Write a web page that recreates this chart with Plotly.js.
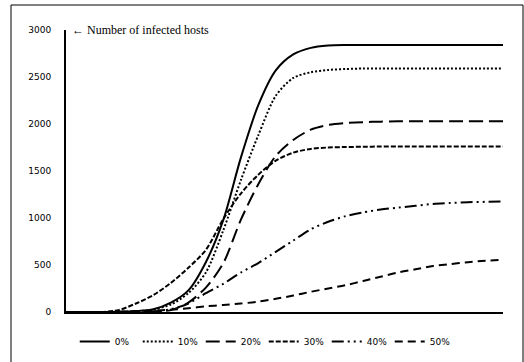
<!DOCTYPE html>
<html>
<head>
<meta charset="utf-8">
<script src="https://cdn.plot.ly/plotly-3.0.1.min.js"></script>
<style>html,body{margin:0;padding:0;background:#fff;}#chart{width:524px;height:362px;}</style>
</head>
<body>
<div id="chart"></div>
<script>
// Time steps (arbitrary units, no x labels in the original)
const timeSteps = [0,4,8,12,16,20,24,28,32,36,40,44,48,52,56,60,64,68,72,76,80,84,88,92,96,100];
const seriesNames = ["0%","10%","20%","30%","40%","50%"];
const infected0  = [0,0,0,2,10,30,100,230,530,980,1640,2200,2570,2740,2810,2835,2840,2840,2840,2840,2840,2840,2840,2840,2840,2840];
const infected10 = [0,0,0,2,8,25,80,200,420,870,1400,1880,2300,2490,2550,2575,2585,2590,2590,2590,2590,2590,2590,2590,2590,2590];
const infected20 = [0,0,0,0,0,5,20,100,260,520,980,1360,1660,1830,1940,1990,2010,2020,2025,2030,2030,2030,2030,2030,2030,2030];
const infected30 = [0,0,0,20,90,180,310,470,660,990,1260,1460,1610,1695,1735,1750,1755,1758,1760,1760,1760,1760,1760,1760,1760,1760];
const infected40 = [0,0,0,0,2,5,30,90,200,300,420,520,640,760,880,960,1020,1060,1090,1110,1130,1150,1160,1168,1172,1175];
const infected50 = [0,0,0,3,8,15,25,40,60,75,90,110,140,175,215,250,285,330,375,420,455,490,510,530,545,555];
const yTicks = [0,500,1000,1500,2000,2500,3000];

const allSeries = [infected0, infected10, infected20, infected30, infected40, infected50];
const dashes = ["solid", "2px,2px", "14px,6px", "5px,2px", "12px,4px,2px,4px,2px,4px", "8px,5px"];

const traces = allSeries.map((vals, i) => ({
  x: timeSteps, y: vals, name: seriesNames[i], type: "scatter", mode: "lines",
  line: {color: "#000", width: 2, dash: dashes[i], shape: "spline", smoothing: 0.8},
  hoverinfo: "skip"
}));

const layout = {
  width: 524, height: 362,
  margin: {l: 66, r: 21, t: 30, b: 50, pad: 0, autoexpand: false},
  paper_bgcolor: "#fff", plot_bgcolor: "#fff",
  showlegend: true,
  legend: {orientation: "h", x: 0.02, xanchor: "left", y: -0.105, yanchor: "middle",
    font: {family: "DejaVu Sans", size: 9, color: "#000"}, entrywidth: 18, entrywidthmode: "pixels",
    itemwidth: 30, tracegroupgap: 0, bgcolor: "rgba(0,0,0,0)"},
  xaxis: {range: [0, 100], showgrid: false, zeroline: false, showticklabels: false,
    showline: true, linecolor: "#000", linewidth: 2, ticks: "", fixedrange: true},
  yaxis: {range: [0, 3000], tickvals: yTicks, ticktext: yTicks.map(String), showgrid: false, zeroline: false,
    showline: true, linecolor: "#000", linewidth: 2, ticks: "outside", ticklen: 11, tickcolor: "rgba(0,0,0,0)",
    tickfont: {family: "DejaVu Sans", size: 9, color: "#000"}, fixedrange: true},
  annotations: [{
    text: "\u2190 Number of infected hosts", xref: "paper", yref: "paper", x: 0.01, y: 1, xanchor: "left", yanchor: "middle",
    showarrow: false, font: {family: "Liberation Serif", size: 12, color: "#000"}
  }],
  shapes: [{
    type: "rect", xref: "paper", yref: "paper",
    x0: (11-66)/437, x1: (523-66)/437, y0: (312-370)/282, y1: (312-5)/282,
    line: {color: "#000", width: 1}
  }]
};

Plotly.newPlot("chart", traces, layout, {staticPlot: true, displayModeBar: false});
</script>
</body>
</html>
